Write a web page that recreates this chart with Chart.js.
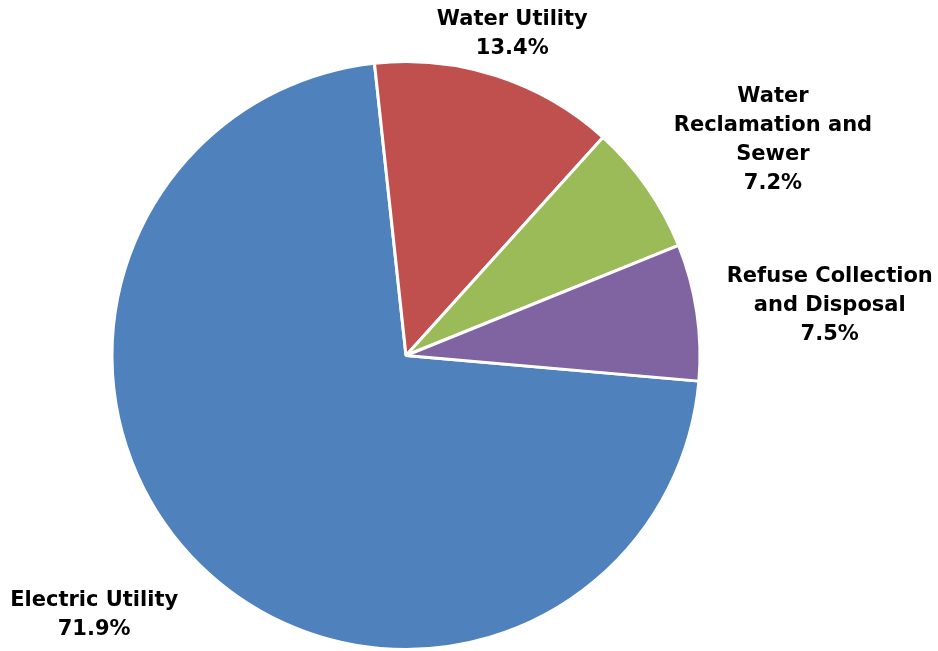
<!DOCTYPE html>
<html>
<head>
<meta charset="utf-8">
<script src="https://cdn.jsdelivr.net/npm/chart.js@4/dist/chart.umd.min.js"></script>
<style>
  html, body { margin: 0; padding: 0; background: #fff; }
  #wrap { width: 938px; height: 651px; }
</style>
</head>
<body>
<div id="wrap"><canvas id="pie" width="938" height="651"></canvas></div>
<script>
const categories = ['Electric Utility', 'Water Utility', 'Water Reclamation and Sewer', 'Refuse Collection and Disposal'];
const shares = [71.9, 13.4, 7.2, 7.5];
const labelLines = [
    ['Electric Utility'],
    ['Water Utility'],
    ['Water', 'Reclamation and', 'Sewer'],
    ['Refuse Collection', 'and Disposal']
];
const colors = ['#4F81BD', '#C0504D', '#9BBB59', '#8064A2'];

// label block center: extra distance past the rim, and angle shift (deg) off the slice middle
const labelPlace = [[110, 6.1], [47, 0.2], [133, 4.2], [133, 1.4]];

const sliceLabels = {
    id: 'sliceLabels',
    afterDatasetsDraw(chart) {
        const ctx = chart.ctx;
        const arcs = chart.getDatasetMeta(0).data;
        ctx.save();
        ctx.fillStyle = '#000';
        ctx.font = 'bold 21px "DejaVu Sans"';
        ctx.textAlign = 'center';
        ctx.textBaseline = 'middle';
        const lh = 29;
        arcs.forEach((arc, i) => {
            const mid = (arc.startAngle + arc.endAngle) / 2 + labelPlace[i][1] * Math.PI / 180;
            const d = arc.outerRadius + labelPlace[i][0];
            const cx = arc.x + Math.cos(mid) * d;
            const cy = arc.y + Math.sin(mid) * d + 2.5;
            const lines = labelLines[i].concat([shares[i].toFixed(1) + '%']);
            const top = cy - (lines.length - 1) * lh / 2;
            lines.forEach((t, j) => ctx.fillText(t, cx, top + j * lh));
        });
        ctx.restore();
    }
};

new Chart(document.getElementById('pie'), {
    type: 'pie',
    data: {
        labels: categories,
        datasets: [{
            data: shares,
            backgroundColor: colors,
            borderColor: '#fff',
            borderWidth: 3
        }]
    },
    options: {
        responsive: false,
        animation: false,
        rotation: 95,
        layout: {
            padding: { top: 60, bottom: 0, left: 110.5, right: 236.5 }
        },
        plugins: {
            legend: { display: false },
            tooltip: { enabled: false }
        }
    },
    plugins: [sliceLabels]
});
</script>
</body>
</html>
